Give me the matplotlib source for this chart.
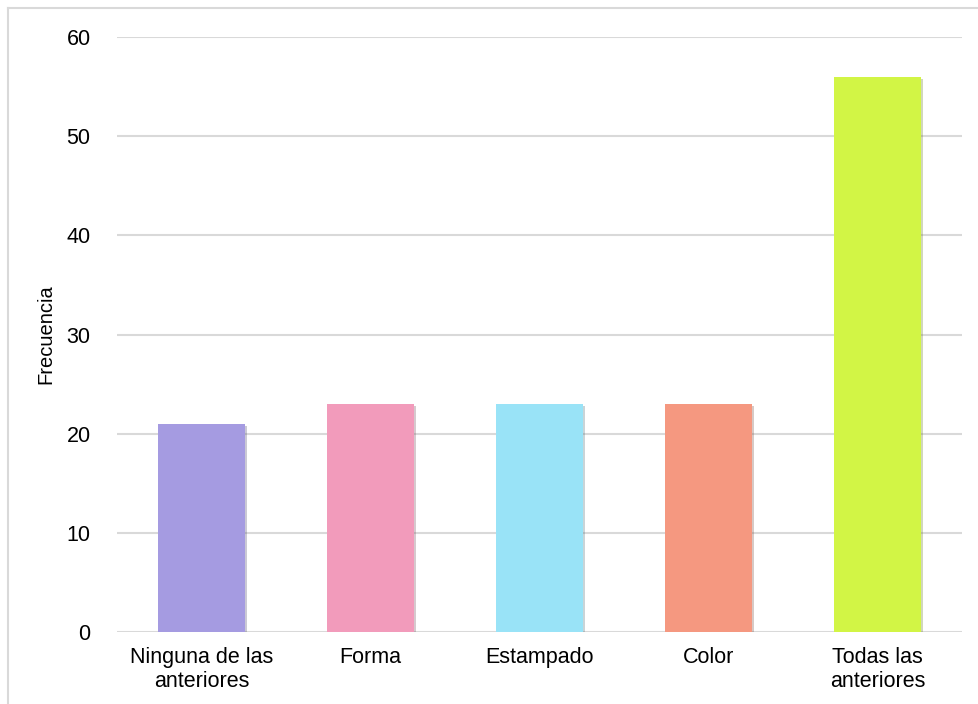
import matplotlib
matplotlib.use("Agg")
import matplotlib.pyplot as plt
import matplotlib.patheffects as pe
from matplotlib.lines import Line2D

categorias = ["Ninguna de las\nanteriores", "Forma", "Estampado", "Color", "Todas las\nanteriores"]
frecuencias = [21, 23, 23, 23, 56]
colores = ["#A59BE1", "#F29BBB", "#99E3F7", "#F59880", "#D2F545"]
y_ticks = [0, 10, 20, 30, 40, 50, 60]

plt.rcParams["font.family"] = ["Liberation Sans", "DejaVu Sans"]

fig = plt.figure(figsize=(9.79, 7.04), dpi=100)
ax = fig.add_axes([0.1195, 0.1023, 0.8631, 0.8451])

x = range(len(categorias))
bars = ax.bar(x, frecuencias, width=0.51, color=colores, zorder=3)
for b in bars:
    b.set_path_effects([pe.SimplePatchShadow(offset=(1.5, -1.5), alpha=0.3, rho=0.5), pe.Normal()])

ax.set_xlim(-0.5, 4.5)
ax.set_ylim(0, 60)
ax.set_yticks(y_ticks)
ax.set_xticks(list(x))
ax.set_xticklabels(categorias, fontsize=15.5, linespacing=1.2)
ax.tick_params(axis="y", labelsize=15.5, length=0, pad=19)
ax.tick_params(axis="x", length=0, pad=11)
ax.grid(axis="y", color="#D9D9D9", linewidth=1.5, zorder=0)
for s in ax.spines.values():
    s.set_visible(False)
ax.set_ylabel("Frecuencia", fontsize=14.5)
ax.yaxis.set_label_coords(-0.073, 0.5)

# marco del gráfico
fig.add_artist(Line2D([8 / 979, 1], [1 - 8 / 704, 1 - 8 / 704], color="#D9D9D9", linewidth=1.5, transform=fig.transFigure))
fig.add_artist(Line2D([8 / 979, 8 / 979], [0, 1 - 8 / 704], color="#D9D9D9", linewidth=1.5, transform=fig.transFigure))

fig.savefig("out.png", dpi=100)
